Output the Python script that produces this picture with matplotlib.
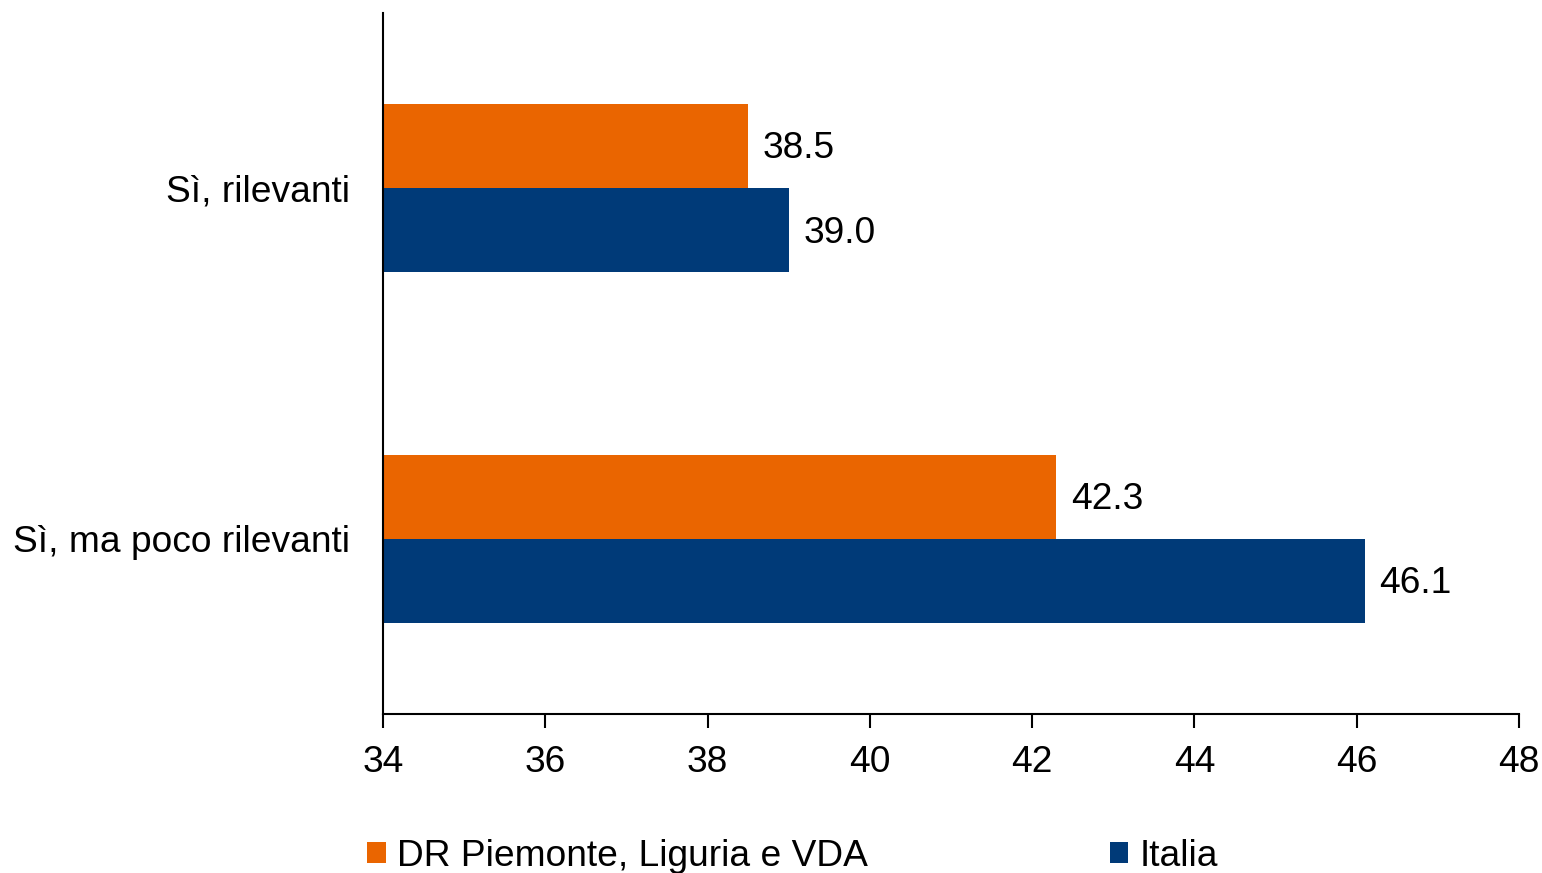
import numpy as np
import matplotlib.pyplot as plt

plt.rcParams['font.family'] = ['Liberation Sans', 'DejaVu Sans']

categories = ["Sì, rilevanti", "Sì, ma poco rilevanti"]
series_names = ["DR Piemonte, Liguria e VDA", "Italia"]
dr_values = [38.5, 42.3]
italia_values = [39.0, 46.1]
colors = ["#EA6500", "#003A78"]

fs = 26.7
fig = plt.figure(figsize=(15.42, 8.73), dpi=100)
ax = fig.add_axes([383/1542, 1 - 714/873, (1519-383)/1542, (714-13)/873])

y = np.arange(len(categories))
h = 0.24
b1 = ax.barh(y - h/2, np.array(dr_values) - 34, left=34, height=h, color=colors[0],
             label=series_names[0])
b2 = ax.barh(y + h/2, np.array(italia_values) - 34, left=34, height=h, color=colors[1],
             label=series_names[1])

for yy, v in zip(y - h/2, dr_values):
    ax.text(v + 0.18, yy + 0.008, f"{v:.1f}", va='center', ha='left', fontsize=fs)
for yy, v in zip(y + h/2, italia_values):
    ax.text(v + 0.18, yy + 0.008, f"{v:.1f}", va='center', ha='left', fontsize=fs)

ax.set_xlim(34, 48)
ax.set_xticks(np.arange(34, 49, 2))
ax.set_ylim(1.5, -0.5)
ax.set_yticks(y)
ax.set_yticklabels(categories, fontsize=fs)
ax.tick_params(axis='y', length=0, pad=24)
ax.tick_params(axis='x', labelsize=fs, length=10, width=1.5, pad=12, direction='out')
for s in ['top', 'right']:
    ax.spines[s].set_visible(False)
ax.spines['left'].set_linewidth(1.5)
ax.spines['bottom'].set_linewidth(1.5)

fig.legend(handles=[b1, b2], loc='center left', bbox_to_anchor=(367/1542, 1 - 856/873),
           ncol=2, frameon=False, fontsize=fs, handlelength=0.5, handleheight=0.5,
           handletextpad=0.3, columnspacing=6.53, borderpad=0, borderaxespad=0)

plt.savefig("out.png", dpi=100)
